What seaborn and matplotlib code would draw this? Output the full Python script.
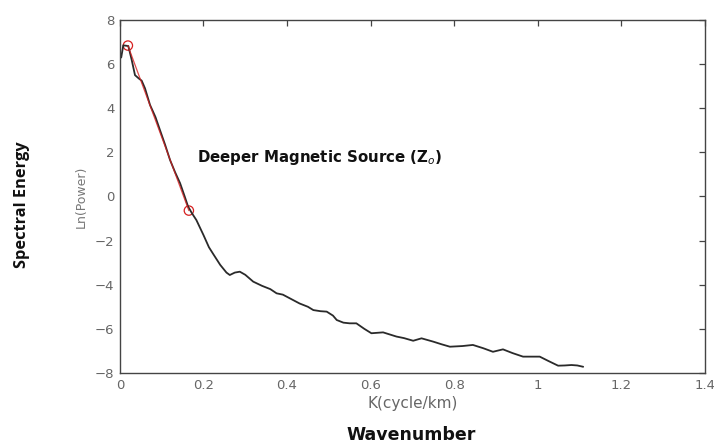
import matplotlib
matplotlib.use("Agg")
import matplotlib.pyplot as plt
import seaborn as sns
import pandas as pd

# Radially averaged power spectrum
k_values = [0.003, 0.008, 0.020, 0.028, 0.036, 0.045, 0.052, 0.060, 0.072, 0.085,
            0.096, 0.108, 0.120, 0.132, 0.144, 0.155, 0.163, 0.172, 0.183, 0.200,
            0.213, 0.223, 0.240, 0.255, 0.263, 0.275, 0.287, 0.300, 0.319, 0.340,
            0.360, 0.375, 0.390, 0.407, 0.430, 0.450, 0.463, 0.480, 0.495, 0.510,
            0.519, 0.535, 0.550, 0.566, 0.585, 0.602, 0.630, 0.662, 0.680, 0.702,
            0.722, 0.750, 0.770, 0.790, 0.820, 0.845, 0.870, 0.893, 0.917, 0.940,
            0.965, 1.005, 1.025, 1.049, 1.065, 1.081, 1.095, 1.109]
ln_power = [6.30, 6.85, 6.82, 6.20, 5.50, 5.35, 5.25, 4.90, 4.15, 3.60,
            3.00, 2.35, 1.65, 1.10, 0.60, 0.00, -0.45, -0.75, -1.07, -1.75,
            -2.30, -2.60, -3.10, -3.45, -3.56, -3.45, -3.41, -3.55, -3.86, -4.05,
            -4.20, -4.39, -4.45, -4.62, -4.85, -5.00, -5.15, -5.20, -5.22, -5.40,
            -5.60, -5.72, -5.75, -5.75, -6.00, -6.20, -6.16, -6.35, -6.42, -6.54,
            -6.43, -6.58, -6.70, -6.81, -6.78, -6.73, -6.88, -7.04, -6.93, -7.10,
            -7.26, -7.26, -7.45, -7.67, -7.66, -7.64, -7.66, -7.72]

# Linear segment picked for the deeper source
fit_k = [0.019, 0.165]
fit_ln = [6.84, -0.64]

x_ticks = [0, 0.2, 0.4, 0.6, 0.8, 1, 1.2, 1.4]
x_tick_labels = ["0", "0.2", "0.4", "0.6", "0.8", "1", "1.2", "1.4"]
y_ticks = [-8, -6, -4, -2, 0, 2, 4, 6, 8]

spectrum = pd.DataFrame({"k": k_values, "ln_power": ln_power})
fit = pd.DataFrame({"k": fit_k, "ln_power": fit_ln})

sns.set_style("white")
plt.rcParams["font.family"] = ["DejaVu Sans"]

fig = plt.figure(figsize=(7.14, 4.44), dpi=100)
ax = fig.add_axes([0.168, 0.160, 0.819, 0.795])

sns.lineplot(data=spectrum, x="k", y="ln_power", ax=ax, color="#2a2a2a",
             linewidth=1.3, sort=False, estimator=None)
sns.lineplot(data=fit, x="k", y="ln_power", ax=ax, color="#d62020",
             linewidth=0.9, alpha=0.8, estimator=None)
sns.scatterplot(data=fit, x="k", y="ln_power", ax=ax, marker="o", s=45,
                facecolor="none", edgecolor="#d62020", linewidth=0.9)

ax.set_xlim(0, 1.4)
ax.set_ylim(-8, 8)
ax.set_xticks(x_ticks)
ax.set_xticklabels(x_tick_labels)
ax.set_yticks(y_ticks)
ax.tick_params(direction="in", length=4, width=0.9, colors="#444444",
               labelcolor="#666666", labelsize=9.5,
               top=True, right=True, pad=4)
for side in ax.spines.values():
    side.set_color("#444444")
    side.set_linewidth(1.0)

ax.set_xlabel("K(cycle/km)", fontsize=11, color="#666666", labelpad=3)
ax.set_ylabel("Ln(Power)", fontsize=9, color="#777777", labelpad=5)

ax.text(0.184, 1.78, "Deeper Magnetic Source (Z$_o$)", fontsize=10.8,
        fontweight="bold", color="#111111", va="center", ha="left")

fig.text(22 / 714, 1 - 205 / 444, "Spectral Energy", rotation=90,
         fontsize=11.8, fontweight="bold", family=["Open Sans", "DejaVu Sans"],
         ha="center", va="center", color="#111111")
fig.text(411 / 714, 1 - 435 / 444, "Wavenumber", fontsize=12.5,
         fontweight="bold", ha="center", va="center", color="#111111")

fig.savefig("out.png", dpi=100)
